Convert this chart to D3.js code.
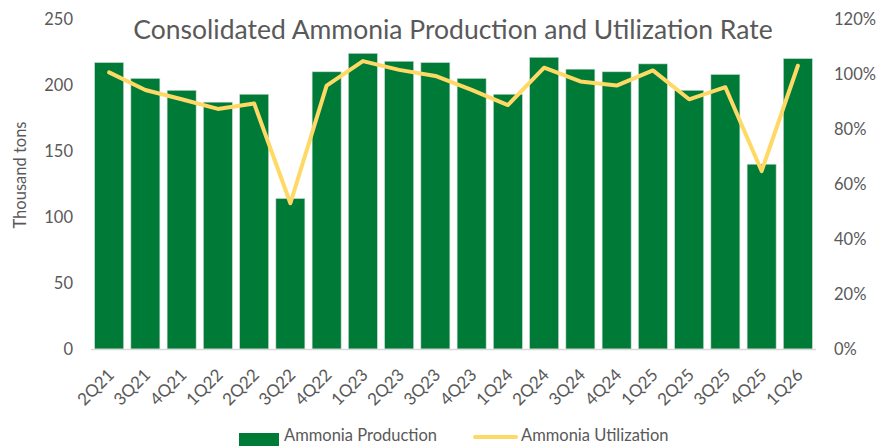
<!DOCTYPE html>
<html>
<head>
<meta charset="utf-8">
<script src="https://cdn.jsdelivr.net/npm/d3@7"></script>
<style>
  html, body { margin: 0; padding: 0; background: #fff; }
  svg { display: block; font-family: Lato, "Open Sans", sans-serif; }
</style>
</head>
<body>
<svg id="chart" width="877" height="446"></svg>
<script>
const categories = ["2Q21","3Q21","4Q21","1Q22","2Q22","3Q22","4Q22","1Q23","2Q23","3Q23","4Q23","1Q24","2Q24","3Q24","4Q24","1Q25","2Q25","3Q25","4Q25","1Q26"];
const production = [217,205,196,187,193,114,210,224,218,217,205,193,221,212,210,216,196,208,140,220];
const utilization = [100.6,94.2,90.8,87.3,89.3,53.0,95.8,104.7,101.5,99.3,94.2,88.7,102.3,97.3,95.8,101.3,90.8,95.2,64.7,103.0];
const leftTicks = [0,50,100,150,200,250];
const rightTicks = [0,20,40,60,80,100,120];
const title = "Consolidated Ammonia Production and Utilization Rate";
const leftAxisTitle = "Thousand tons";
const legendLabels = ["Ammonia Production","Ammonia Utilization"];

const svg = d3.select("#chart");
const textColor = "#595959";
const barColor = "#007A37";
const lineColor = "#FFD966";

const plot = {left: 91, right: 816, top: 19, bottom: 349};

const x = d3.scaleBand().domain(categories).range([plot.left, plot.right]).paddingInner(0.2).paddingOuter(0.1);
const yL = d3.scaleLinear().domain([0,250]).range([plot.bottom, plot.top]);
const yR = d3.scaleLinear().domain([0,120]).range([plot.bottom, plot.top]);

// Title
svg.append("text")
  .attr("x", 453).attr("y", 39)
  .attr("text-anchor", "middle")
  .attr("fill", textColor)
  .style("font-size", "26.5px")
  .text(title);

// Bars
svg.append("g").selectAll("rect")
  .data(categories)
  .join("rect")
  .attr("x", d => x(d))
  .attr("width", x.bandwidth())
  .attr("y", (d,i) => yL(production[i]))
  .attr("height", (d,i) => yL(0) - yL(production[i]))
  .attr("fill", barColor)
  .attr("stroke", "#c9dccf")
  .attr("stroke-width", 0.6);

// Baseline
svg.append("line")
  .attr("x1", plot.left).attr("x2", plot.right)
  .attr("y1", plot.bottom + 0.5).attr("y2", plot.bottom + 0.5)
  .attr("stroke", "#d9d9d9").attr("stroke-width", 1.5);

// Line
const line = d3.line()
  .x((d,i) => x(categories[i]) + x.bandwidth()/2)
  .y(d => yR(d));
svg.append("path")
  .datum(utilization)
  .attr("d", line)
  .attr("fill", "none")
  .attr("stroke", lineColor)
  .attr("stroke-width", 4)
  .attr("stroke-linejoin", "round")
  .attr("stroke-linecap", "round");

// Left axis
const leftAxis = d3.axisLeft(yL).tickValues(leftTicks).tickSize(0).tickPadding(0);
const gL = svg.append("g").attr("transform", `translate(73,0)`).call(leftAxis);
gL.select(".domain").remove();
gL.selectAll("text").attr("fill", textColor).style("font-size", "16.5px").attr("font-family", "Lato, sans-serif");

// Right axis
const rightAxis = d3.axisRight(yR).tickValues(rightTicks).tickSize(0).tickPadding(0).tickFormat(d => d + "%");
const gR = svg.append("g").attr("transform", `translate(834,0)`).call(rightAxis);
gR.select(".domain").remove();
gR.selectAll("text").attr("fill", textColor).style("font-size", "16.5px").attr("font-family", "Lato, sans-serif");

// X axis labels
const xAxis = d3.axisBottom(x).tickSize(0).tickPadding(0);
const gX = svg.append("g").attr("transform", `translate(0,${plot.bottom})`).call(xAxis);
gX.select(".domain").remove();
gX.selectAll("text")
  .attr("fill", textColor)
  .style("font-size", "17px")
  .attr("font-family", "Lato, sans-serif")
  .attr("text-anchor", "end")
  .attr("dy", null)
  .attr("y", 0)
  .attr("transform", "translate(6,27) rotate(-45)");

// Left axis title
svg.append("text")
  .attr("transform", "translate(26,175) rotate(-90)")
  .attr("text-anchor", "middle")
  .attr("fill", textColor)
  .style("font-size", "16.5px")
  .text(leftAxisTitle);

// Legend
const lg = svg.append("g");
lg.append("rect").attr("x", 239).attr("y", 433).attr("width", 40).attr("height", 13).attr("fill", barColor);
lg.append("text").attr("x", 284).attr("y", 441).attr("fill", textColor).style("font-size", "16.5px").text(legendLabels[0]);
lg.append("line").attr("x1", 475).attr("x2", 516).attr("y1", 437).attr("y2", 437)
  .attr("stroke", lineColor).attr("stroke-width", 4).attr("stroke-linecap", "round");
lg.append("text").attr("x", 521).attr("y", 441).attr("fill", textColor).style("font-size", "16.5px").text(legendLabels[1]);
</script>
</body>
</html>
